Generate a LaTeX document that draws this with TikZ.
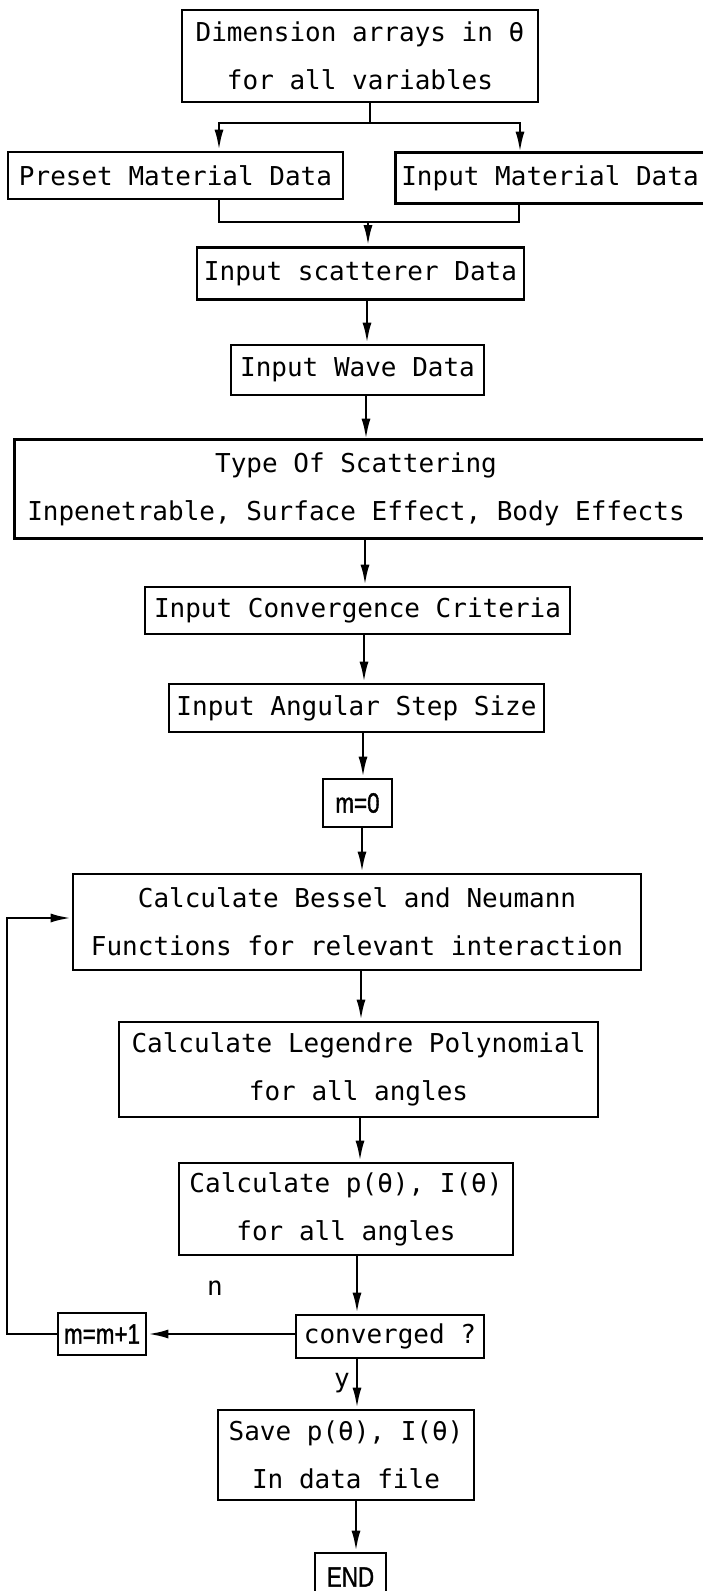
\documentclass[tikz,border=0pt]{standalone}
\usepackage{fontspec}
\setmonofont{DejaVu Sans Mono}
\newfontfamily\plotfont[FakeStretch=0.8,FakeBold=1.2]{Liberation Sans}
\usetikzlibrary{arrows.meta}

\begin{document}
\begin{tikzpicture}[x=1pt, y=-1pt, line width=2.8pt,
    box/.style={draw, rectangle, inner sep=0pt, align=center,
      font=\ttfamily\fontsize{26}{48}\selectfont},
    countbox/.style={draw, rectangle, inner sep=0pt,
      font=\plotfont\fontsize{28}{28}\selectfont},
    answer/.style={font=\ttfamily\fontsize{26}{30}\selectfont},
    arr/.style={-{Latex[length=21pt,width=9pt]}}]
  \useasboundingbox (0,0) rectangle (703,1591);

  % set up arrays and material data
  \node [box, minimum width=356, minimum height=92] (dims) at (360,56)
    {Dimension arrays in θ\\for all variables};
  \node [box, minimum width=335, minimum height=47] (preset) at (175.5,175.5)
    {Preset Material Data};
  % this box runs off the right edge, so its frame is drawn by hand
  \node [box, draw=none, minimum width=306, minimum height=48] (inmat) at (550,178)
    {Input Material Data};
  \draw (inmat.north west) rectangle ([xshift=40]inmat.south east);

  \node [box, minimum width=327, minimum height=52] (scat) at (360.5,273.5)
    {Input scatterer Data};
  \node [box, minimum width=253, minimum height=50] (wave) at (357.5,370)
    {Input Wave Data};
  \node [box, draw=none, minimum width=680, minimum height=96] (type) at (356,489)
    {Type Of Scattering\\Inpenetrable, Surface Effect, Body Effects};
  \draw (type.north west) rectangle ([xshift=40]type.south east);
  \node [box, minimum width=425, minimum height=47] (conv) at (357.5,610.5)
    {Input Convergence Criteria};
  \node [box, minimum width=375, minimum height=48] (ang) at (356.5,708)
    {Input Angular Step Size};
  \node [countbox, minimum width=69, minimum height=48] (m0) at (357.5,803)
    {m=0};

  % the series loop
  \node [box, minimum width=568, minimum height=96] (bessel) at (357,922)
    {Calculate Bessel and Neumann\\Functions for relevant interaction};
  \node [box, minimum width=479, minimum height=95] (leg) at (358.5,1069.5)
    {Calculate Legendre Polynomial\\for all angles};
  \node [box, minimum width=334, minimum height=92] (calcp) at (346,1209)
    {Calculate p(θ), I(θ)\\for all angles};
  \node [box, minimum width=188, minimum height=43] (convq) at (390,1336.5)
    {converged ?};
  \node [countbox, minimum width=88, minimum height=42] (mm1) at (102,1334)
    {m=m+1};
  \node [answer] (no) at (215,1288) {n};
  \node [answer] (yes) at (342,1383) {y};

  \node [box, minimum width=256, minimum height=90] (save) at (346,1455)
    {Save p(θ), I(θ)\\In data file};
  \node [countbox, minimum width=71, minimum height=48] (end) at (350.5,1577)
    {END};

  % fan out to both material boxes, then join again
  \coordinate (fork) at (370,123);
  \coordinate (join) at (368,222);
  \draw (dims.south -| fork) -- (fork);
  \draw [arr] (fork) -| ([xshift=43.5]preset.north);
  \draw [arr] (fork) -| ([xshift=-30]inmat.north);
  \draw ([xshift=43.5]preset.south) |- (join);
  \draw ([xshift=-31]inmat.south) |- (join);
  \draw [arr] (join) -- (scat.north -| join);

  % straight down the middle
  \draw [arr] (scat.south -| 367,0) -- (wave.north -| 367,0);
  \draw [arr] (wave.south -| 366,0) -- (type.north -| 366,0);
  \draw [arr] (type.south -| 365,0) -- (conv.north -| 365,0);
  \draw [arr] (conv.south -| 364,0) -- (ang.north -| 364,0);
  \draw [arr] (ang.south -| 363,0) -- (m0.north -| 363,0);
  \draw [arr] (m0.south -| 362,0) -- (bessel.north -| 362,0);
  \draw [arr] (bessel.south -| 361,0) -- (leg.north -| 361,0);
  \draw [arr] (leg.south -| 360,0) -- (calcp.north -| 360,0);
  \draw [arr] (calcp.south -| 357,0) -- (convq.north -| 357,0);
  \draw [arr] (convq.south -| 357,0) -- (save.north -| 357,0);
  \draw [arr] (save.south -| 356,0) -- (end.north -| 356,0);

  % not converged: m=m+1 and back to the Bessel step
  \coordinate (back) at (7,918);
  \draw [arr] (convq.west |- mm1.east) -- (mm1.east);
  \draw [arr] (mm1.west) -| (back) -- (bessel.west |- back);
\end{tikzpicture}
\end{document}
